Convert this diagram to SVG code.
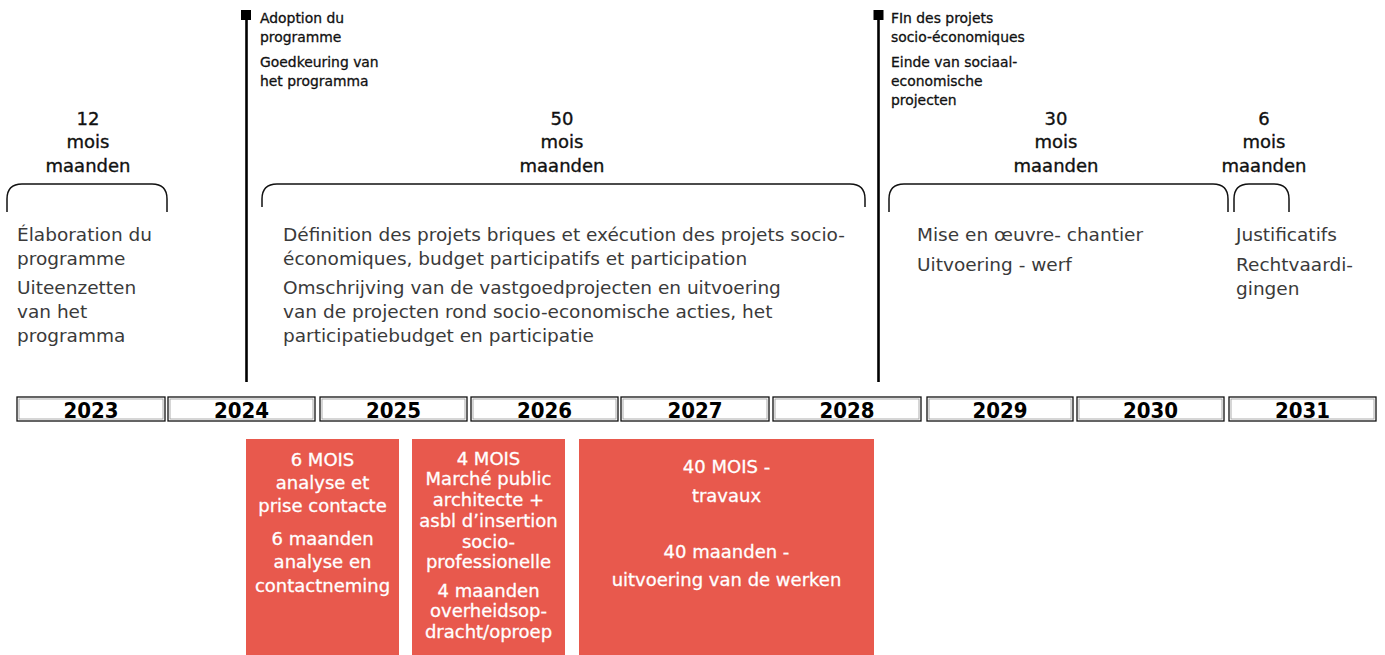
<svg xmlns="http://www.w3.org/2000/svg" width="1385" height="655" viewBox="0 0 1385 655">
<style>
text{font-family:"DejaVu Sans","Liberation Sans",sans-serif}
.ms{font-size:13.9px;fill:#111;stroke:#111;stroke-width:0.3}
.hd{font-size:18px;fill:#111;text-anchor:middle;stroke:#111;stroke-width:0.35}
.bd{font-size:18.5px;fill:#3a3a3a}
.yr{font-family:"DejaVu Sans Condensed","DejaVu Sans",sans-serif;font-stretch:condensed;font-weight:bold;font-size:22px;fill:#000;text-anchor:middle}
.rb{font-size:18px;fill:#fff;text-anchor:middle;stroke:#fff;stroke-width:0.3}
.brace{fill:none;stroke:#111;stroke-width:1.5}
.ml{stroke:#000;stroke-width:2.6}
.yo{fill:#fff;stroke:#111;stroke-width:1.3}
.yi{fill:none;stroke:#999;stroke-width:0.8}
.red{fill:#E8594D}
</style>
<rect width="1385" height="655" fill="#fff"/>

<g id="connectors">
<line class="ml" x1="246.5" y1="14" x2="246.5" y2="382"/>
<rect x="241" y="10" width="10" height="10" fill="#000"/>
<line class="ml" x1="878.5" y1="14" x2="878.5" y2="382"/>
<rect x="873.5" y="10" width="10" height="10" fill="#000"/>
<path class="brace" d="M7,212 V199 Q7,184 22,184 H152 Q167,184 167,199 V212"/>
<path class="brace" d="M262,207 V199 Q262,184 277,184 H850 Q865,184 865,199 V207"/>
<path class="brace" d="M889,212 V199 Q889,184 904,184 H1213 Q1228,184 1228,199 V212"/>
<path class="brace" d="M1234,212 V199 Q1234,184 1249,184 H1274 Q1289,184 1289,199 V212"/>
</g>

<g id="milestone-adoption">
<text class="ms" x="260" y="23">Adoption du</text>
<text class="ms" x="260" y="42">programme</text>
<text class="ms" x="260" y="67">Goedkeuring van</text>
<text class="ms" x="260" y="86">het programma</text>
</g>
<g id="milestone-fin">
<text class="ms" x="891" y="23">FIn des projets</text>
<text class="ms" x="891" y="42">socio-économiques</text>
<text class="ms" x="891" y="67">Einde van sociaal-</text>
<text class="ms" x="891" y="86">economische</text>
<text class="ms" x="891" y="105">projecten</text>
</g>

<g id="phase-elaboration">
<text class="hd" x="88" y="125">12</text>
<text class="hd" x="88" y="148">mois</text>
<text class="hd" x="88" y="172">maanden</text>
<text class="bd" x="17" y="241">Élaboration du</text>
<text class="bd" x="17" y="265">programme</text>
<text class="bd" x="17" y="294">Uiteenzetten</text>
<text class="bd" x="17" y="318">van het</text>
<text class="bd" x="17" y="342">programma</text>
</g>

<g id="phase-definition">
<text class="hd" x="562" y="125">50</text>
<text class="hd" x="562" y="148">mois</text>
<text class="hd" x="562" y="172">maanden</text>
<text class="bd" x="283" y="241">Définition des projets briques et exécution des projets socio-</text>
<text class="bd" x="283" y="265">économiques, budget participatifs et participation</text>
<text class="bd" x="283" y="294">Omschrijving van de vastgoedprojecten en uitvoering</text>
<text class="bd" x="283" y="318">van de projecten rond socio-economische acties, het</text>
<text class="bd" x="283" y="342">participatiebudget en participatie</text>
</g>

<g id="phase-chantier">
<text class="hd" x="1056" y="125">30</text>
<text class="hd" x="1056" y="148">mois</text>
<text class="hd" x="1056" y="172">maanden</text>
<text class="bd" x="917" y="241">Mise en œuvre- chantier</text>
<text class="bd" x="917" y="271">Uitvoering - werf</text>
</g>

<g id="phase-justificatifs">
<text class="hd" x="1264" y="125">6</text>
<text class="hd" x="1264" y="148">mois</text>
<text class="hd" x="1264" y="172">maanden</text>
<text class="bd" x="1236" y="241">Justificatifs</text>
<text class="bd" x="1236" y="271">Rechtvaardi-</text>
<text class="bd" x="1236" y="295">gingen</text>
</g>

<g id="years">
<rect class="yo" x="17" y="397" width="148" height="24"/><rect class="yi" x="19" y="399" width="144" height="20"/><text class="yr" x="91" y="418">2023</text>
<rect class="yo" x="168" y="397" width="147" height="24"/><rect class="yi" x="170" y="399" width="143" height="20"/><text class="yr" x="241.5" y="418">2024</text>
<rect class="yo" x="320" y="397" width="147" height="24"/><rect class="yi" x="322" y="399" width="143" height="20"/><text class="yr" x="393.5" y="418">2025</text>
<rect class="yo" x="471" y="397" width="147" height="24"/><rect class="yi" x="473" y="399" width="143" height="20"/><text class="yr" x="544.5" y="418">2026</text>
<rect class="yo" x="621" y="397" width="148" height="24"/><rect class="yi" x="623" y="399" width="144" height="20"/><text class="yr" x="695" y="418">2027</text>
<rect class="yo" x="773" y="397" width="148" height="24"/><rect class="yi" x="775" y="399" width="144" height="20"/><text class="yr" x="847" y="418">2028</text>
<rect class="yo" x="927" y="397" width="146" height="24"/><rect class="yi" x="929" y="399" width="142" height="20"/><text class="yr" x="1000" y="418">2029</text>
<rect class="yo" x="1077" y="397" width="147" height="24"/><rect class="yi" x="1079" y="399" width="143" height="20"/><text class="yr" x="1150.5" y="418">2030</text>
<rect class="yo" x="1229" y="397" width="147" height="24"/><rect class="yi" x="1231" y="399" width="143" height="20"/><text class="yr" x="1302.5" y="418">2031</text>
</g>

<g id="task-analyse">
<rect class="red" x="246" y="439" width="153" height="216"/>
<text class="rb" x="322.5" y="466">6 MOIS</text>
<text class="rb" x="322.5" y="489">analyse et</text>
<text class="rb" x="322.5" y="512">prise contacte</text>
<text class="rb" x="322.5" y="545">6 maanden</text>
<text class="rb" x="322.5" y="568">analyse en</text>
<text class="rb" x="322.5" y="592">contactneming</text>
</g>

<g id="task-marche">
<rect class="red" x="412" y="439" width="153" height="216"/>
<text class="rb" x="488.5" y="465">4 MOIS</text>
<text class="rb" x="488.5" y="485">Marché public</text>
<text class="rb" x="488.5" y="506">architecte +</text>
<text class="rb" x="488.5" y="527">asbl d’insertion</text>
<text class="rb" x="488.5" y="548">socio-</text>
<text class="rb" x="488.5" y="568">professionelle</text>
<text class="rb" x="488.5" y="597">4 maanden</text>
<text class="rb" x="488.5" y="617">overheidsop-</text>
<text class="rb" x="488.5" y="638">dracht/oproep</text>
</g>

<g id="task-travaux">
<rect class="red" x="579" y="439" width="295" height="216"/>
<text class="rb" x="726.5" y="473">40 MOIS -</text>
<text class="rb" x="726.5" y="502">travaux</text>
<text class="rb" x="726.5" y="558">40 maanden -</text>
<text class="rb" x="726.5" y="586">uitvoering van de werken</text>
</g>
</svg>
